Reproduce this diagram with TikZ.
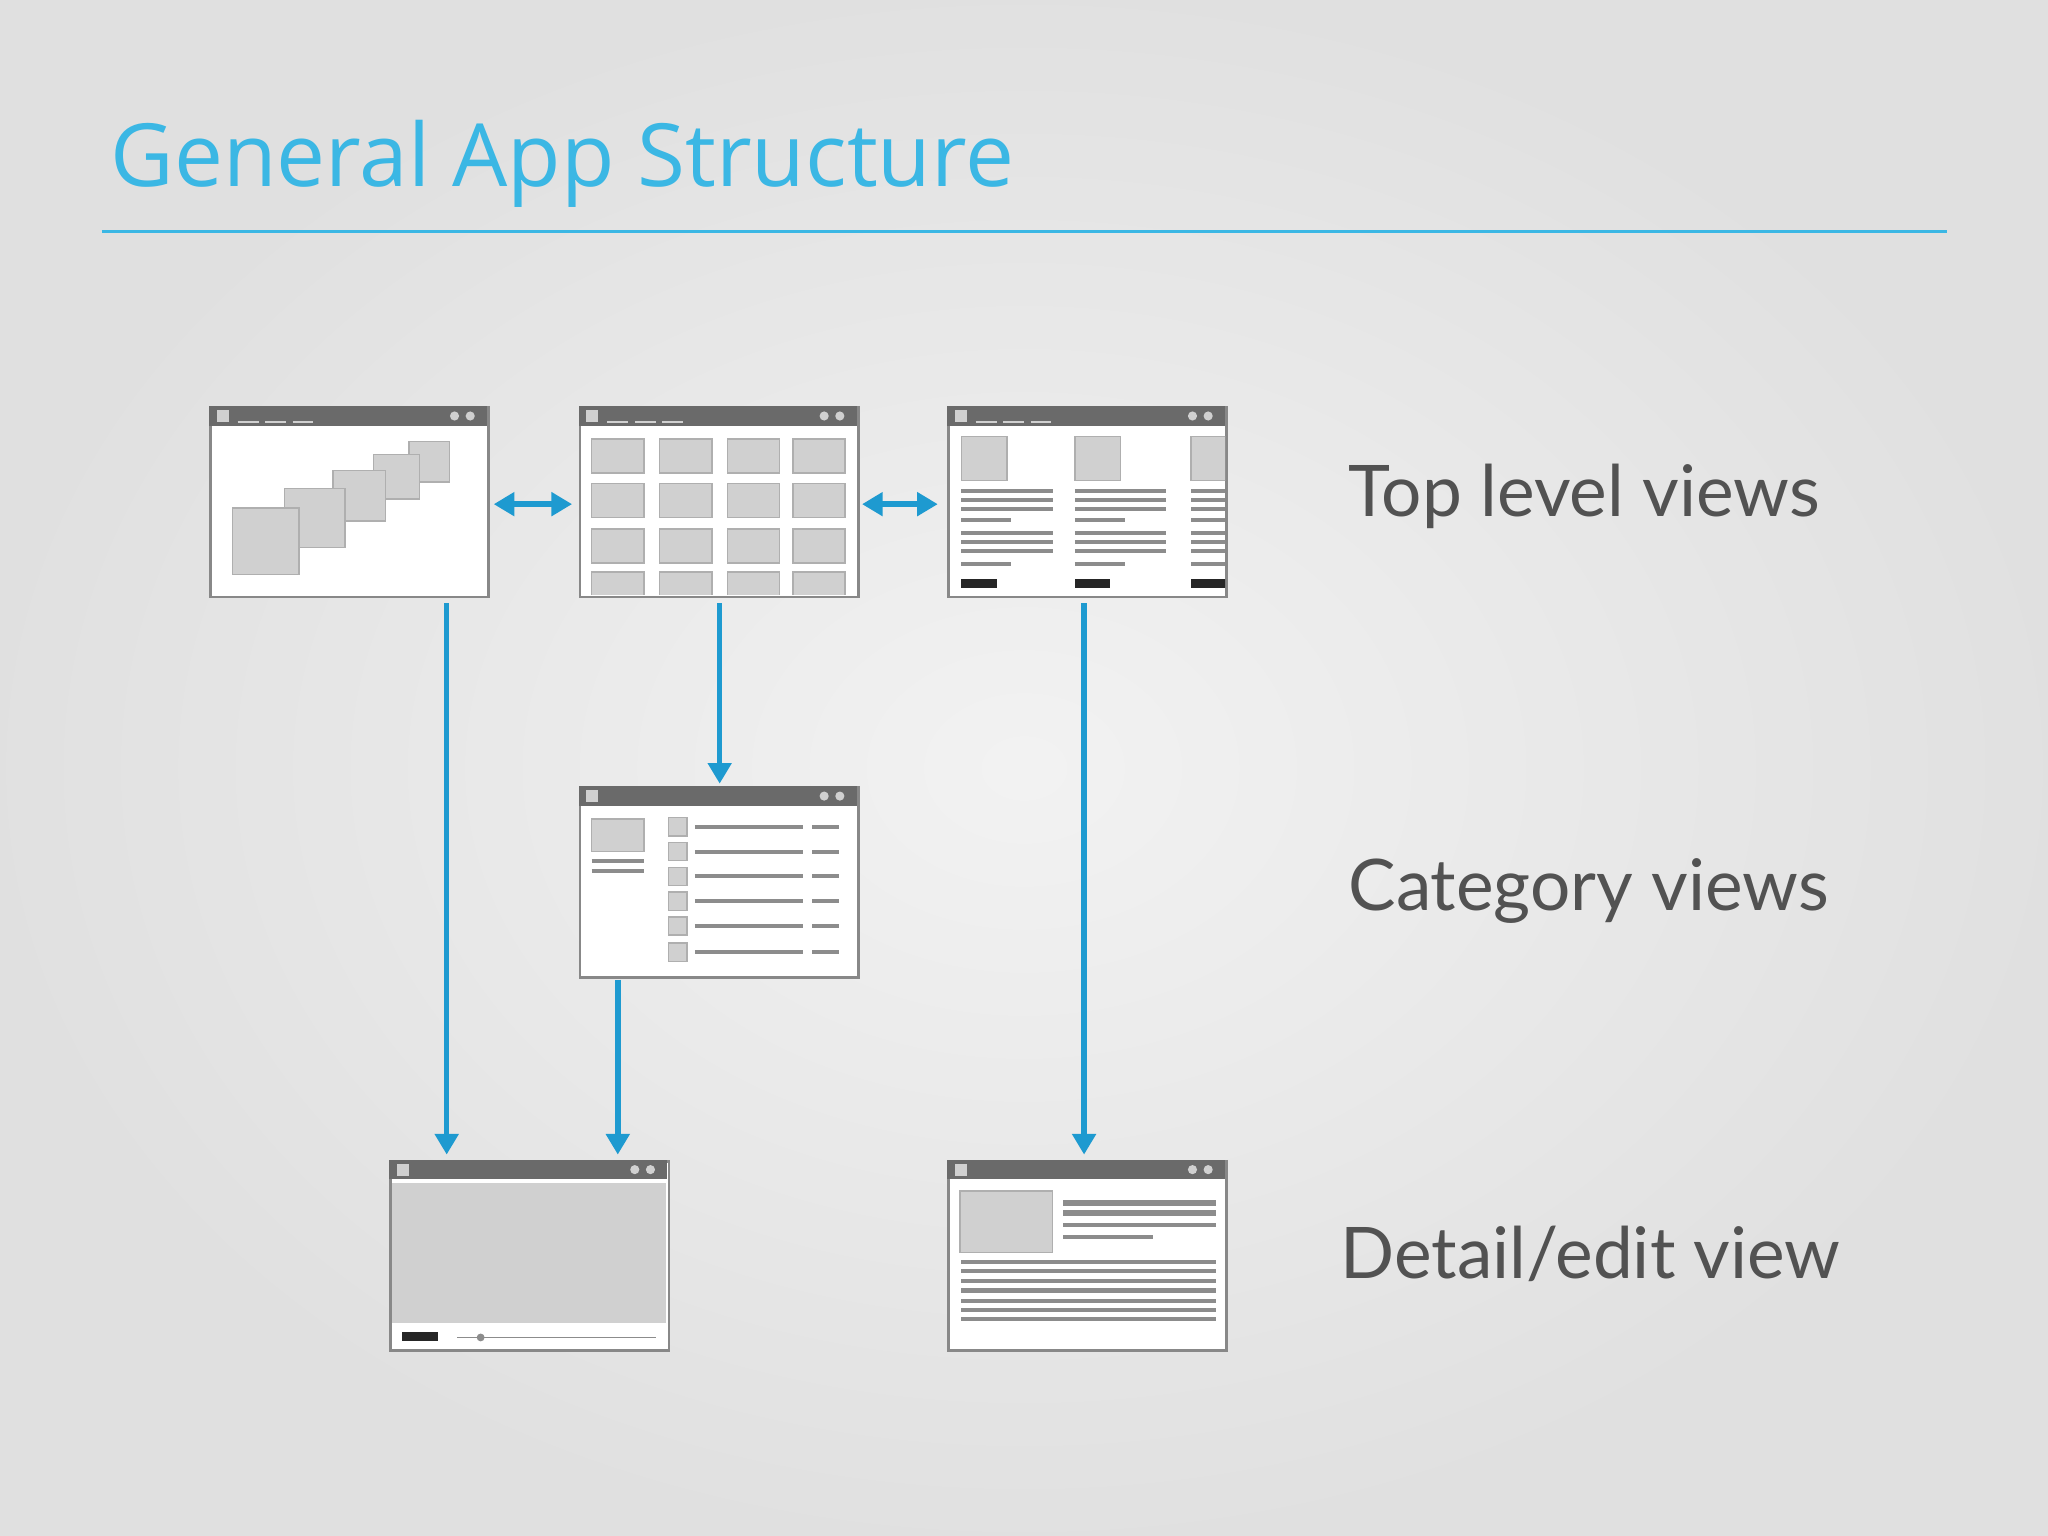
\documentclass[tikz,border=0pt]{standalone}
\usepackage{fontspec}
\setmainfont{Open Sans}
\newfontfamily\labfont{Lato}
\usetikzlibrary{arrows.meta}
\definecolor{ttl}{HTML}{3BB7E4}
\definecolor{arr}{HTML}{1E9AD0}
\definecolor{bar}{HTML}{6A6A6A}
\definecolor{blk}{HTML}{D0D0D0}
\definecolor{lin}{HTML}{8C8C8C}
\tikzset{
 win/.style={draw=bar!80,line width=0.6pt,fill=white,anchor=north west,minimum width=2.13cm,minimum height=1.45cm,inner sep=0pt},
 blkbox/.style={fill=blk,draw=lin!70,line width=0.3pt},
 ln/.style={lin,line width=0.9pt},
 flow/.style={arr,line width=1.2pt,-{Triangle[length=4.5pt,width=5pt]}},
 dflow/.style={arr,line width=1.2pt,{Triangle[length=4.5pt,width=5pt]}-{Triangle[length=4.5pt,width=5pt]}},
 lab/.style={anchor=west,text=black!68,font=\labfont\fontsize{15.5}{18}\selectfont}
}
\newcommand{\tbar}[2]{\fill[bar] (#1,#2) rectangle ++(213,15);
 \fill[blk] (#1+6,#2+3) rectangle ++(9,9);
 \fill[blk] (#1+200,#2+7.5) circle (3.5); \fill[blk] (#1+188,#2+7.5) circle (3.5);}
\begin{document}
\begin{tikzpicture}[x=0.01cm,y=-0.01cm]
\useasboundingbox (0,0) rectangle (1568,1176);
\fill[black!12] (0,0) rectangle (1568,1176);
\shade[inner color=black!5,outer color=black!12] (0,0) rectangle (1568,1176);
\node[anchor=base west,inner sep=0pt,text=ttl,font=\fontsize{19}{22}\selectfont] (title) at (84,143) {General App Structure};
\draw[ttl,line width=0.7pt] (78,177) -- (1491,177);
% windows
\node[win] (w1) at (160,311) {}; \tbar{160}{311}
\node[win] (w2) at (443,311) {}; \tbar{443}{311}
\node[win] (w3) at (725,311) {}; \tbar{725}{311}
\node[win] (w4) at (443,602) {}; \tbar{443}{602}
\node[win] (w5) at (298,888) {}; \tbar{298}{888}
\node[win] (w6) at (725,888) {}; \tbar{725}{888}
\foreach \x in {182,203,224}{\draw[blk,line width=0.4pt] (\x,323)--++(16,0);}
\foreach \x in {465,486,507}{\draw[blk,line width=0.4pt] (\x,323)--++(16,0);}
\foreach \x in {747,768,789}{\draw[blk,line width=0.4pt] (\x,323)--++(16,0);}
% w1 squares
\foreach \a/\b/\c/\d in {313/338/344/369,286/348/321/382,255/360/295/399,218/374/264/419,178/389/229/440}{\draw[blkbox] (\a,\b) rectangle (\c,\d);}
% w2 grid
\begin{scope}
\clip (444,327) rectangle (655,455);
\foreach \x in {453,505,557,607}{\foreach \y in {336,370,405,438}{\draw[blkbox] (\x,\y) rectangle ++(40,26);}}
\end{scope}
% w3 columns
\begin{scope}
\clip (726,327) rectangle (938,455);
\foreach \x in {736,823,912}{
 \draw[blkbox] (\x,334) rectangle ++(35,34);
 \foreach \y in {376,383,390,408,415,422}{\draw[ln] (\x,\y)--++(70,0);}
 \foreach \y in {398,432}{\draw[ln] (\x,\y)--++(38,0);}
 \fill[black!85] (\x,443) rectangle ++(27,7);}
\end{scope}
% w4
\draw[blkbox] (453,627) rectangle (493,652);
\draw[ln] (453,659)--(493,659); \draw[ln] (453,667)--(493,667);
\foreach \y in {633,652,671,690,709,729}{\draw[blkbox] (512,\y-7) rectangle ++(14,14);
 \draw[ln] (532,\y)--(615,\y); \draw[ln] (622,\y)--(642,\y);}
% w5
\fill[blk] (300,906) rectangle (510,1013);
\fill[black!85] (308,1020) rectangle (335,1027);
\draw[lin,line width=0.4pt] (350,1024)--(502,1024);
\fill[lin] (368,1024) circle (3);
% w6
\draw[blkbox] (735,912) rectangle (806,959);
\draw[ln,line width=1.3pt] (814,921)--(931,921); \draw[ln,line width=1.3pt] (814,929)--(931,929);
\draw[ln] (814,938)--(931,938); \draw[ln] (814,947)--(883,947);
\foreach \y in {966,973,981,988,996,1003,1010}{\draw[ln] (736,\y)--(931,\y);}
% connectors
\coordinate (a1) at (342,462); \coordinate (a2) at (342,884);
\coordinate (b1) at (551,462); \coordinate (b2) at (551,600);
\coordinate (c1) at (473,750); \coordinate (c2) at (473,884);
\coordinate (d1) at (830,462); \coordinate (d2) at (830,884);
\coordinate (e1) at (378,386); \coordinate (e2) at (438,386);
\coordinate (f1) at (660,386); \coordinate (f2) at (718,386);
\draw[flow] (a1)--(a2); \draw[flow] (b1)--(b2); \draw[flow] (c1)--(c2); \draw[flow] (d1)--(d2);
\draw[dflow] (e1)--(e2); \draw[dflow] (f1)--(f2);
% labels
\node[lab] (l1) at (1020,380) {Top level views};
\node[lab] (l2) at (1020,682) {Category views};
\node[lab] (l3) at (1014,960) {Detail/edit view};
\end{tikzpicture}
\end{document}
